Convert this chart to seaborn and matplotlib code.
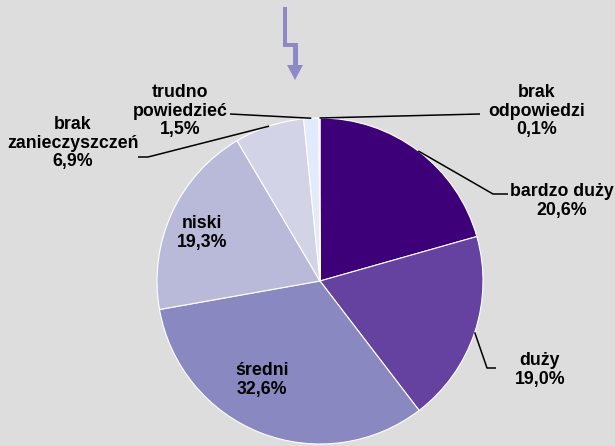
import numpy as np
import matplotlib
matplotlib.use("Agg")
import matplotlib.pyplot as plt
from matplotlib.patches import Polygon
import seaborn as sns

# dane
categories = ["bardzo duży", "duży", "średni", "niski",
              "brak\nzanieczyszczeń", "trudno\npowiedzieć", "brak\nodpowiedzi"]
shares = [20.6, 19.0, 32.6, 19.3, 6.9, 1.5, 0.1]
colors = ["#3d0078", "#6541a0", "#8a88c0", "#b9b9da", "#d2d3e6", "#e2ebfb", "#ffffff"]

W, H = 615, 446
BG = "#dddddd"


def fmt(v):
    return f"{v:.1f}".replace(".", ",") + "%"


sns.set_theme(style="white")
plt.rcParams["font.family"] = ["Liberation Sans", "DejaVu Sans"]

fig = plt.figure(figsize=(W / 100, H / 100), dpi=100, facecolor=BG)
ax = fig.add_axes([0, 0, 1, 1])
ax.set_facecolor(BG)

cx, cy, r = 320, 281, 163
palette = sns.color_palette(colors)
wedges, _ = ax.pie(shares, colors=palette, startangle=90, counterclock=False,
                   center=(cx, H - cy), radius=r,
                   wedgeprops=dict(edgecolor="white", linewidth=0.8))
ax.set_xlim(0, W)
ax.set_ylim(0, H)
ax.set_aspect("equal")
ax.axis("off")


def anchor(w):
    # punkt na brzegu w polowie kata wycinka (w pikselach, y w dol)
    a = np.deg2rad((w.theta1 + w.theta2) / 2)
    return cx + r * np.cos(a), cy - r * np.sin(a)


txt = dict(fontsize=12.8, fontweight="bold", ha="center", va="center",
           color="black", linespacing=1.15)

# etykiety wewnatrz
inside = {2: (262, 380), 3: (202, 233)}
for i, (x, y) in inside.items():
    ax.text(x, H - y, f"{categories[i]}\n{fmt(shares[i])}", **txt)

# etykiety z odnosnikami: pozycja tekstu, punkty linii
outside = {
    0: ((562, 201), [(493, 194), (508, 194)]),
    1: ((540, 370), [(487, 368), (496, 368)]),
    4: ((73, 143), [(148, 157), (138, 157)]),
    5: ((180, 111), [(230, 114)]),
    6: ((537, 111), [(480, 114)]),
}
for i, ((x, y), pts) in outside.items():
    ax.text(x, H - y, f"{categories[i]}\n{fmt(shares[i])}", **txt)
    ax0 = anchor(wedges[i])
    xs = [ax0[0]] + [p[0] for p in pts]
    ys = [H - ax0[1]] + [H - p[1] for p in pts]
    ax.plot(xs, ys, color="black", lw=1.1, solid_capstyle="butt")

# strzalka-blyskawica
bolt = [(283, 7), (287, 7), (287, 43), (298, 43), (298, 65), (303, 65),
        (295, 80), (287, 65), (293, 65), (293, 47), (283, 47)]
ax.add_patch(Polygon([(x, H - y) for x, y in bolt], closed=True,
                     facecolor="#8e89c6", edgecolor="none"))

fig.savefig("out.png", dpi=100, facecolor=BG)
